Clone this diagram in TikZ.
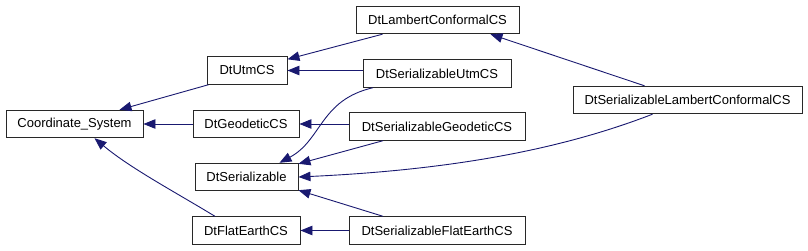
\documentclass[tikz,border=0pt]{standalone}
\usepackage{fontspec}
\setmainfont{Liberation Sans}
\usetikzlibrary{arrows.meta}
\definecolor{edgeblue}{RGB}{25,25,112}
\definecolor{boxline}{RGB}{40,40,40}
\begin{document}
\begin{tikzpicture}[x=1pt,y=-1pt,
  cls/.style={draw=boxline,line width=0.9pt,fill=white,minimum height=27.5pt,inner sep=0pt,font=\fontsize{13}{15}\selectfont},
  inh/.style={draw=edgeblue,line width=0.9pt,-{Triangle[length=12pt,width=9.5pt,fill=edgeblue]}}]
\useasboundingbox (0,0) rectangle (808,251);
\node[cls,minimum width=137pt] (cs) at (74.5,124) {Coordinate\_System};
\node[cls,minimum width=80pt] (utm) at (247,70.5) {DtUtmCS};
\node[cls,minimum width=106pt] (geo) at (246,124) {DtGeodeticCS};
\node[cls,minimum width=103pt] (ser) at (246.5,177) {DtSerializable};
\node[cls,minimum width=108pt] (flat) at (246,230.5) {DtFlatEarthCS};
\node[cls,minimum width=163pt] (lam) at (437.5,20) {DtLambertConformalCS};
\node[cls,minimum width=148pt] (sutm) at (437,73.5) {DtSerializableUtmCS};
\node[cls,minimum width=176pt] (sgeo) at (437,126.5) {DtSerializableGeodeticCS};
\node[cls,minimum width=176pt] (sflat) at (437,230.5) {DtSerializableFlatEarthCS};
\node[cls,minimum width=229pt] (slam) at (687.5,100) {DtSerializableLambertConformalCS};
% edges
\draw[inh] ([xshift=2pt]utm.south west) -- ([xshift=45pt]cs.north);
\draw[inh] (geo.west) -- (cs.east);
\draw[inh] ([xshift=-31pt]flat.north) .. controls (175,192) and (130,168) .. ([xshift=20pt]cs.south);
\draw[inh] ([xshift=-55pt]lam.south) -- ([yshift=-3pt]utm.north east);
\draw[inh] (sutm.west |- utm.east) -- (utm.east);
\draw[inh] ([xshift=-64pt]sutm.south) .. controls (320,100) and (322,140) .. ([xshift=33pt]ser.north);
\draw[inh] (sgeo.west |- geo.east) -- (geo.east);
\draw[inh] ([xshift=-54pt]sgeo.south) -- ([yshift=-1pt]ser.north east);
\draw[inh] ([xshift=-35pt]slam.south) .. controls (560,150) and (450,170) .. (ser.east);
\draw[inh] ([xshift=-54pt]sflat.north) -- ([yshift=1pt]ser.south east);
\draw[inh] (sflat.west) -- (flat.east);
\draw[inh] ([xshift=-43pt]slam.north) -- ([xshift=53pt]lam.south);
\end{tikzpicture}
\end{document}
